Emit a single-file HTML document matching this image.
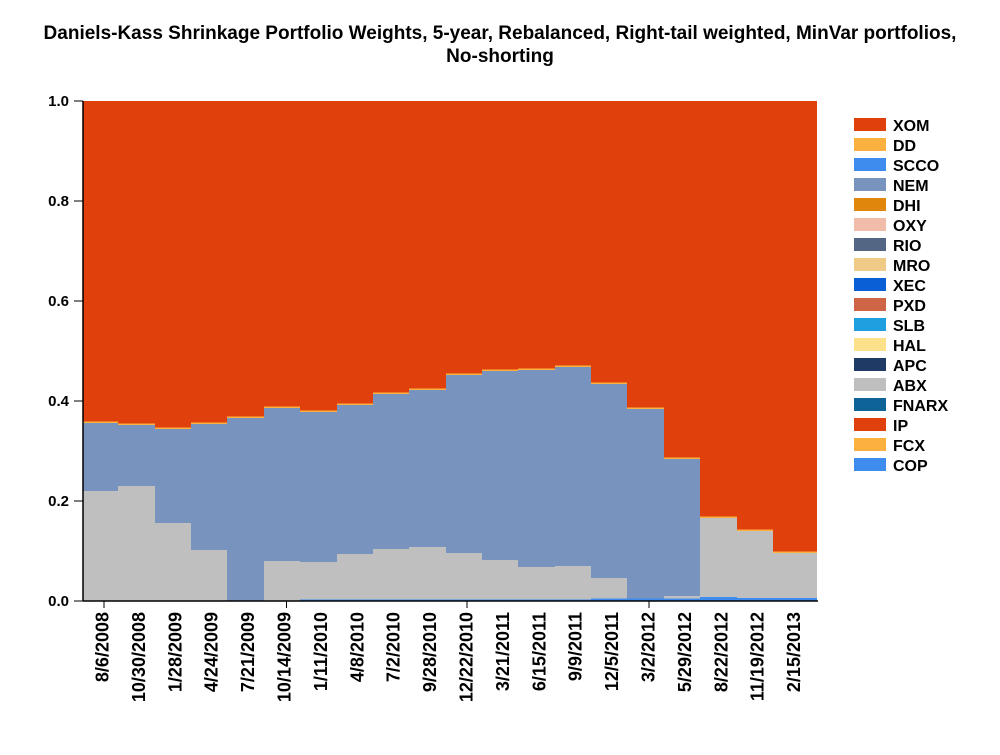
<!DOCTYPE html>
<html><head><meta charset="utf-8"><style>
body{margin:0;background:#fff;}
svg text{font-family:"Liberation Sans",Arial,sans-serif;font-weight:bold;}
</style></head><body>
<svg width="1000" height="750" xmlns="http://www.w3.org/2000/svg">
<text x="500" y="39" font-size="19" text-anchor="middle">Daniels-Kass Shrinkage Portfolio Weights, 5-year, Rebalanced, Right-tail weighted, MinVar portfolios,</text>
<text x="500" y="62" font-size="19" text-anchor="middle">No-shorting</text>
<rect x="83" y="101" width="734" height="500" fill="#e0400c"/>
<g fill="#fbb040">
<rect x="83" y="421.5" width="35" height="1.5"/><rect x="118" y="423.5" width="37" height="1.5"/><rect x="155" y="427.5" width="36" height="1.5"/><rect x="191" y="422.5" width="36" height="1.5"/><rect x="227" y="416.5" width="37" height="1.5"/><rect x="264" y="406.5" width="36" height="1.5"/><rect x="300" y="410.5" width="37" height="1.5"/><rect x="337" y="403.5" width="36" height="1.5"/><rect x="373" y="392.5" width="36" height="1.5"/><rect x="409" y="388.5" width="37" height="1.5"/><rect x="446" y="373.5" width="36" height="1.5"/><rect x="482" y="369.5" width="36" height="1.5"/><rect x="518" y="368.5" width="37" height="1.5"/><rect x="555" y="365.5" width="36" height="1.5"/><rect x="591" y="382.5" width="36" height="1.5"/><rect x="627" y="407.5" width="37" height="1.5"/><rect x="664" y="457.5" width="36" height="1.5"/><rect x="700" y="516.5" width="37" height="1.5"/><rect x="737" y="529.5" width="36" height="1.5"/><rect x="773" y="551.5" width="44" height="1.5"/>
</g>
<g fill="#7894be">
<rect x="83" y="423" width="35" height="178"/><rect x="118" y="425" width="37" height="176"/><rect x="155" y="429" width="36" height="172"/><rect x="191" y="424" width="36" height="177"/><rect x="227" y="418" width="37" height="183"/><rect x="264" y="408" width="36" height="193"/><rect x="300" y="412" width="37" height="189"/><rect x="337" y="405" width="36" height="196"/><rect x="373" y="394" width="36" height="207"/><rect x="409" y="390" width="37" height="211"/><rect x="446" y="375" width="36" height="226"/><rect x="482" y="371" width="36" height="230"/><rect x="518" y="370" width="37" height="231"/><rect x="555" y="367" width="36" height="234"/><rect x="591" y="384" width="36" height="217"/><rect x="627" y="409" width="37" height="192"/><rect x="664" y="459" width="36" height="142"/>
</g>
<g fill="#bfbfbf">
<rect x="83" y="491" width="35" height="110"/><rect x="118" y="486" width="37" height="115"/><rect x="155" y="523" width="36" height="78"/><rect x="191" y="550" width="36" height="51"/><rect x="264" y="561" width="36" height="40"/><rect x="300" y="562" width="37" height="39"/><rect x="337" y="554" width="36" height="47"/><rect x="373" y="549" width="36" height="52"/><rect x="409" y="547" width="37" height="54"/><rect x="446" y="553" width="36" height="48"/><rect x="482" y="560" width="36" height="41"/><rect x="518" y="567" width="37" height="34"/><rect x="555" y="566" width="36" height="35"/><rect x="591" y="578" width="36" height="23"/><rect x="664" y="596" width="36" height="5"/><rect x="700" y="518" width="37" height="83"/><rect x="737" y="531" width="36" height="70"/><rect x="773" y="553" width="44" height="48"/>
</g>
<g fill="#3f8cef">
<rect x="300" y="599.5" width="291" height="1.5"/><rect x="591" y="598.5" width="73" height="2.5"/><rect x="664" y="598.5" width="36" height="2.5"/><rect x="700" y="597" width="37" height="4"/><rect x="737" y="598" width="80" height="3"/>
</g>
<line x1="83" y1="101" x2="83" y2="601" stroke="#000" stroke-width="1.5"/>
<line x1="83" y1="601" x2="818" y2="601" stroke="#000" stroke-width="1.5"/>
<g font-size="14" text-anchor="end" stroke="#000">
<line x1="74" y1="101" x2="83" y2="101"/><line x1="74" y1="201" x2="83" y2="201"/><line x1="74" y1="301" x2="83" y2="301"/><line x1="74" y1="401" x2="83" y2="401"/><line x1="74" y1="501" x2="83" y2="501"/><line x1="74" y1="601" x2="83" y2="601"/>
<line x1="104" y1="601" x2="104" y2="608"/><line x1="286.5" y1="601" x2="286.5" y2="608"/><line x1="467" y1="601" x2="467" y2="608"/><line x1="649" y1="601" x2="649" y2="608"/>
</g>
<g font-size="15" text-anchor="end">
<text x="69" y="106">1.0</text><text x="69" y="206">0.8</text><text x="69" y="306">0.6</text><text x="69" y="406">0.4</text><text x="69" y="506">0.2</text><text x="69" y="606">0.0</text>
</g>
<g font-size="18" text-anchor="end">
<text transform="translate(108.5,612) rotate(-90)">8/6/2008</text>
<text transform="translate(144.9,612) rotate(-90)">10/30/2008</text>
<text transform="translate(181.3,612) rotate(-90)">1/28/2009</text>
<text transform="translate(217.7,612) rotate(-90)">4/24/2009</text>
<text transform="translate(254.1,612) rotate(-90)">7/21/2009</text>
<text transform="translate(290.5,612) rotate(-90)">10/14/2009</text>
<text transform="translate(326.9,612) rotate(-90)">1/11/2010</text>
<text transform="translate(363.3,612) rotate(-90)">4/8/2010</text>
<text transform="translate(399.7,612) rotate(-90)">7/2/2010</text>
<text transform="translate(436.1,612) rotate(-90)">9/28/2010</text>
<text transform="translate(472.5,612) rotate(-90)">12/22/2010</text>
<text transform="translate(508.9,612) rotate(-90)">3/21/2011</text>
<text transform="translate(545.3,612) rotate(-90)">6/15/2011</text>
<text transform="translate(581.7,612) rotate(-90)">9/9/2011</text>
<text transform="translate(618.1,612) rotate(-90)">12/5/2011</text>
<text transform="translate(654.5,612) rotate(-90)">3/2/2012</text>
<text transform="translate(690.9,612) rotate(-90)">5/29/2012</text>
<text transform="translate(727.3,612) rotate(-90)">8/22/2012</text>
<text transform="translate(763.7,612) rotate(-90)">11/19/2012</text>
<text transform="translate(800.1,612) rotate(-90)">2/15/2013</text>
</g>
<g font-size="16">
<rect x="854" y="118" width="32" height="13" fill="#e0400c"/><text x="893" y="131">XOM</text>
<rect x="854" y="138" width="32" height="13" fill="#fbb040"/><text x="893" y="151">DD</text>
<rect x="854" y="158" width="32" height="13" fill="#3f8cef"/><text x="893" y="171">SCCO</text>
<rect x="854" y="178" width="32" height="13" fill="#7894be"/><text x="893" y="191">NEM</text>
<rect x="854" y="198" width="32" height="13" fill="#e0860c"/><text x="893" y="211">DHI</text>
<rect x="854" y="218" width="32" height="13" fill="#f2bcaa"/><text x="893" y="231">OXY</text>
<rect x="854" y="238" width="32" height="13" fill="#536785"/><text x="893" y="251">RIO</text>
<rect x="854" y="258" width="32" height="13" fill="#f0cb88"/><text x="893" y="271">MRO</text>
<rect x="854" y="278" width="32" height="13" fill="#0b5fd6"/><text x="893" y="291">XEC</text>
<rect x="854" y="298" width="32" height="13" fill="#ce6547"/><text x="893" y="311">PXD</text>
<rect x="854" y="318" width="32" height="13" fill="#1f9fe0"/><text x="893" y="331">SLB</text>
<rect x="854" y="338" width="32" height="13" fill="#fde08a"/><text x="893" y="351">HAL</text>
<rect x="854" y="358" width="32" height="13" fill="#1f3a64"/><text x="893" y="371">APC</text>
<rect x="854" y="378" width="32" height="13" fill="#bfbfbf"/><text x="893" y="391">ABX</text>
<rect x="854" y="398" width="32" height="13" fill="#0e6496"/><text x="893" y="411">FNARX</text>
<rect x="854" y="418" width="32" height="13" fill="#e0400c"/><text x="893" y="431">IP</text>
<rect x="854" y="438" width="32" height="13" fill="#fbb040"/><text x="893" y="451">FCX</text>
<rect x="854" y="458" width="32" height="13" fill="#3f8cef"/><text x="893" y="471">COP</text>
</g>
</svg>
</body></html>
